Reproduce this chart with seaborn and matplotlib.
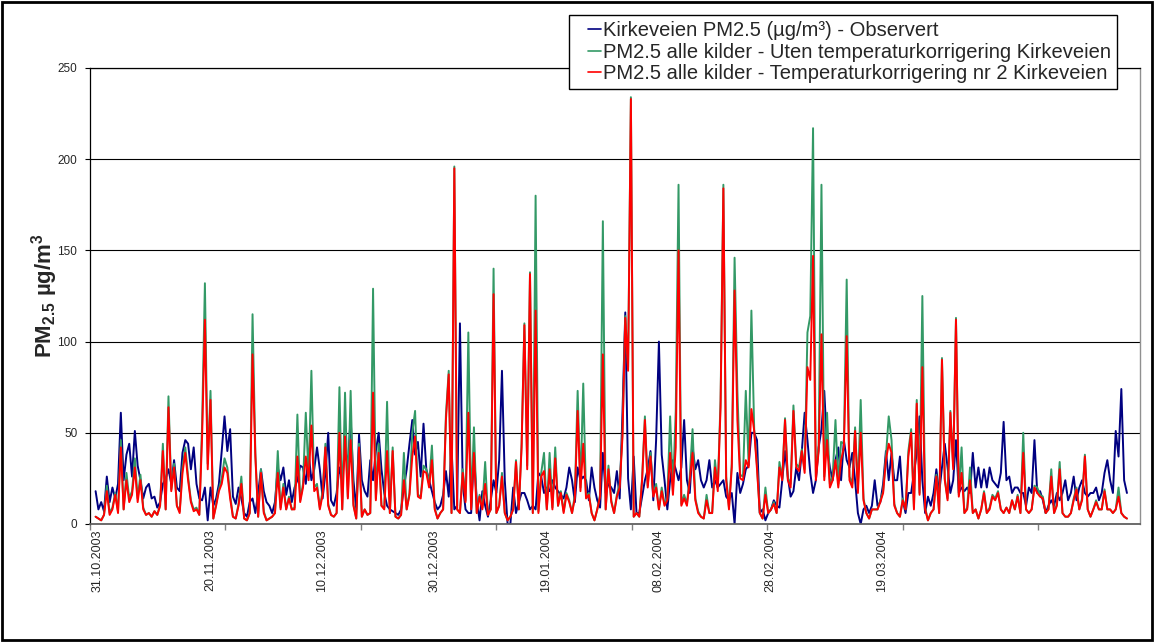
import numpy as np
import pandas as pd
import matplotlib
matplotlib.use("Agg")
import matplotlib.pyplot as plt
import seaborn as sns
from matplotlib.patches import Rectangle
from matplotlib.lines import Line2D
from matplotlib.legend_handler import HandlerLine2D

# ---------------- data (half-day samples) ----------------
series_names = [
    "Kirkeveien PM2.5 (µg/m³) - Observert",
    "PM2.5 alle kilder - Uten temperaturkorrigering Kirkeveien",
    "PM2.5 alle kilder - Temperaturkorrigering nr 2 Kirkeveien",
]
series_colors = ["#000080", "#339966", "#FF0000"]

tick_labels = ["31.10.2003", "20.11.2003", "10.12.2003", "30.12.2003",
               "19.01.2004", "08.02.2004", "28.02.2004", "19.03.2004"]

observed = [
    18, 8, 12, 7, 26, 12, 20, 14, 22, 61,
    24, 38, 44, 26, 51, 32, 24, 14, 20, 22,
    14, 15, 9, 12, 22, 25, 30, 22, 35, 20,
    18, 39, 46, 44, 30, 42, 22, 14, 13, 20,
    2, 20, 10, 14, 22, 40, 59, 40, 52, 15,
    11, 20, 14, 6, 4, 12, 14, 6, 17, 30,
    18, 12, 10, 6, 12, 31, 24, 31, 16, 24,
    12, 20, 24, 32, 31, 22, 39, 24, 30, 42,
    30, 14, 28, 50, 13, 10, 17, 31, 24, 42,
    32, 58, 24, 8, 49, 24, 18, 15, 35, 24,
    40, 50, 30, 17, 10, 8, 7, 6, 5, 8,
    20, 30, 44, 57, 38, 45, 26, 55, 30, 24,
    18, 12, 8, 10, 16, 29, 15, 42, 8, 10,
    110, 22, 8, 6, 6, 39, 13, 2, 18, 10,
    4, 13, 24, 17, 35, 84, 24, 0, 0, 20,
    6, 12, 17, 17, 13, 8, 10, 8, 28, 26,
    17, 20, 18, 24, 20, 18, 16, 14, 20, 31,
    24, 12, 31, 24, 26, 24, 13, 31, 20, 13,
    9, 39, 17, 22, 20, 17, 29, 14, 61, 116,
    25, 8, 37, 6, 6, 15, 24, 30, 40, 13,
    46, 100, 38, 24, 8, 24, 35, 30, 24, 31,
    57, 24, 17, 42, 30, 35, 24, 20, 24, 35,
    20, 24, 20, 22, 24, 15, 13, 17, 0, 28,
    17, 22, 30, 32, 50, 50, 46, 6, 8, 2,
    6, 8, 13, 10, 9, 24, 40, 26, 15, 18,
    31, 24, 40, 61, 46, 28, 17, 24, 42, 52,
    73, 42, 31, 24, 35, 42, 24, 46, 35, 31,
    39, 24, 6, 0, 8, 10, 6, 10, 24, 10,
    12, 22, 40, 24, 39, 24, 24, 37, 13, 6,
    17, 17, 28, 39, 59, 24, 6, 15, 10, 17,
    30, 17, 31, 44, 31, 17, 24, 46, 17, 20,
    18, 20, 17, 39, 20, 31, 20, 30, 20, 31,
    24, 22, 20, 28, 56, 24, 26, 17, 20, 20,
    17, 17, 10, 20, 17, 46, 17, 18, 13, 6,
    10, 13, 10, 17, 13, 17, 24, 13, 17, 26,
    13, 20, 24, 17, 15, 17, 17, 20, 13, 17,
    28, 35, 24, 17, 51, 37, 74, 24, 17,
]

uten_korr = [
    4, 3, 2, 5, 21, 6, 9, 17, 7, 46,
    8, 28, 14, 18, 36, 14, 27, 9, 5, 6,
    4, 7, 5, 10, 44, 8, 70, 19, 33, 10,
    7, 31, 42, 26, 13, 8, 9, 5, 55, 132,
    33, 73, 3, 11, 19, 25, 36, 31, 16, 4,
    3, 11, 26, 3, 2, 6, 115, 39, 4, 30,
    7, 2, 3, 4, 6, 40, 9, 22, 8, 15,
    8, 9, 60, 13, 22, 61, 26, 84, 20, 22,
    9, 18, 44, 11, 5, 4, 6, 75, 8, 72,
    15, 73, 11, 3, 44, 4, 8, 5, 6, 129,
    14, 44, 10, 9, 67, 6, 42, 4, 3, 5,
    39, 8, 17, 50, 62, 16, 15, 32, 30, 22,
    43, 9, 3, 6, 8, 60, 84, 6, 196, 8,
    6, 30, 13, 105, 9, 53, 6, 16, 9, 34,
    5, 8, 140, 6, 10, 28, 6, 2, 4, 8,
    35, 8, 44, 110, 32, 138, 6, 180, 7, 28,
    39, 8, 39, 9, 42, 10, 18, 7, 17, 13,
    6, 16, 73, 20, 77, 15, 17, 6, 2, 8,
    16, 166, 8, 32, 13, 6, 16, 22, 50, 114,
    86, 234, 4, 6, 4, 25, 59, 21, 39, 16,
    22, 8, 20, 11, 14, 59, 18, 62, 186, 11,
    16, 11, 26, 52, 14, 7, 4, 3, 16, 6,
    6, 35, 20, 68, 186, 26, 9, 33, 146, 73,
    27, 26, 73, 33, 117, 52, 32, 6, 3, 20,
    6, 8, 12, 6, 34, 25, 58, 25, 22, 65,
    33, 31, 41, 30, 105, 114, 217, 26, 43, 186,
    26, 61, 22, 26, 57, 22, 45, 44, 134, 26,
    22, 53, 19, 68, 14, 6, 3, 8, 8, 8,
    13, 18, 37, 59, 46, 11, 6, 4, 14, 8,
    40, 52, 9, 68, 17, 125, 9, 2, 6, 8,
    27, 6, 91, 25, 14, 62, 32, 113, 16, 42,
    6, 9, 31, 6, 8, 3, 8, 18, 6, 9,
    16, 14, 18, 8, 6, 9, 6, 13, 8, 16,
    6, 50, 8, 6, 8, 21, 20, 16, 15, 6,
    8, 30, 6, 11, 34, 6, 4, 4, 6, 14,
    20, 8, 14, 38, 8, 4, 8, 13, 8, 8,
    19, 8, 8, 6, 8, 20, 6, 4, 3,
]

temp_korr = [
    4, 3, 2, 5, 18, 5, 8, 16, 6, 42,
    8, 24, 12, 16, 31, 12, 24, 8, 5, 6,
    4, 7, 5, 10, 40, 8, 64, 18, 31, 10,
    6, 28, 39, 24, 12, 7, 8, 5, 48, 112,
    30, 68, 3, 10, 18, 22, 31, 28, 14, 4,
    3, 10, 22, 3, 2, 6, 93, 37, 4, 28,
    6, 2, 3, 4, 6, 28, 8, 20, 8, 14,
    8, 8, 37, 12, 20, 37, 24, 54, 18, 20,
    8, 16, 42, 10, 5, 4, 6, 50, 8, 48,
    14, 46, 10, 3, 42, 4, 8, 5, 6, 72,
    13, 39, 10, 8, 40, 6, 40, 4, 3, 5,
    24, 8, 16, 37, 48, 15, 14, 29, 28, 20,
    35, 8, 3, 6, 8, 57, 82, 6, 195, 8,
    6, 28, 12, 61, 8, 39, 6, 15, 8, 22,
    5, 8, 126, 6, 10, 26, 6, 2, 4, 8,
    34, 8, 42, 109, 30, 137, 6, 117, 6, 26,
    29, 8, 30, 8, 36, 10, 17, 6, 16, 12,
    6, 14, 62, 18, 44, 14, 16, 6, 2, 8,
    15, 93, 8, 30, 12, 6, 15, 20, 48, 113,
    84, 233, 4, 6, 4, 24, 57, 20, 37, 15,
    20, 8, 18, 10, 13, 39, 16, 42, 150, 10,
    14, 10, 24, 39, 13, 6, 4, 3, 13, 6,
    6, 31, 18, 64, 184, 24, 8, 31, 128, 57,
    25, 24, 35, 31, 63, 51, 30, 6, 3, 16,
    6, 8, 11, 6, 31, 24, 57, 24, 20, 62,
    31, 29, 40, 28, 86, 79, 147, 24, 40, 104,
    24, 46, 20, 24, 35, 20, 35, 42, 103, 24,
    20, 51, 17, 50, 13, 6, 3, 8, 8, 8,
    12, 17, 35, 44, 39, 10, 6, 4, 13, 8,
    37, 50, 8, 66, 16, 86, 8, 2, 6, 8,
    26, 6, 90, 24, 13, 61, 30, 112, 15, 28,
    6, 8, 24, 6, 8, 3, 8, 17, 6, 8,
    15, 13, 17, 8, 6, 9, 6, 13, 8, 15,
    6, 39, 8, 6, 8, 20, 17, 15, 14, 6,
    8, 26, 6, 10, 30, 6, 4, 4, 6, 13,
    19, 8, 13, 37, 8, 4, 8, 12, 8, 8,
    18, 8, 8, 6, 8, 15, 6, 4, 3,
]

# ---------------- layout / time axis ----------------
FIRST_SAMPLE_DAY = 1.0     # days after 31.10.2003
SAMPLE_STEP_DAY = 0.5
LABEL_OFFSET_DAYS = 1.4
LABEL_EVERY_DAYS = 20
TICKMARK_EVERY_DAYS = 580 / 24
X_END_DAY = 187.33

n = len(observed)
day = FIRST_SAMPLE_DAY + SAMPLE_STEP_DAY * np.arange(n)

frames = []
for name, vals in zip(series_names, [observed, uten_korr, temp_korr]):
    frames.append(pd.DataFrame({"day": day, "value": vals, "series": name}))
df = pd.concat(frames, ignore_index=True)

sns.set_theme(style="white")
plt.rcParams["font.family"] = ["Liberation Sans", "DejaVu Sans"]
plt.rcParams["mathtext.fontset"] = "custom"
plt.rcParams["mathtext.rm"] = "Liberation Sans"
plt.rcParams["mathtext.bf"] = "Liberation Sans:bold"
plt.rcParams["mathtext.it"] = "Liberation Sans:italic"

W, H = 1155, 642
fig = plt.figure(figsize=(W / 100, H / 100), dpi=100)
ax = fig.add_axes([90 / W, 1 - 524 / H, 1050 / W, 456 / H])

sns.lineplot(data=df, x="day", y="value", hue="series", hue_order=series_names,
             palette=dict(zip(series_names, series_colors)), estimator=None,
             sort=False, linewidth=1.4, ax=ax)

ax.set_xlim(0, X_END_DAY)
ax.set_ylim(0, 250)
ax.set_yticks(np.arange(0, 251, 50))
ax.yaxis.grid(True, color="black", linewidth=0.8)
ax.xaxis.grid(False)
ax.set_axisbelow(True)

label_pos = LABEL_OFFSET_DAYS + np.arange(len(tick_labels)) * LABEL_EVERY_DAYS
ax.set_xticks(label_pos)
ax.set_xticklabels(tick_labels, rotation=90, fontsize=9)
ax.set_xticks(np.arange(0, X_END_DAY, TICKMARK_EVERY_DAYS), minor=True)
ax.tick_params(axis="x", which="major", bottom=True, length=0, pad=4)
ax.tick_params(axis="x", which="minor", bottom=True, length=4, width=1, color="#808080")
ax.tick_params(axis="y", left=True, length=3.6, width=0.8, color="black",
               labelsize=8.5, pad=5.5)

ax.set_xlabel("")
ax.set_ylabel("PM$_{\\mathbf{2.5}}$ µg/m$^{\\mathbf{3}}$", fontsize=16, fontweight="bold")
ax.yaxis.set_label_coords(-0.029, 0.5)

for side in ["left", "top"]:
    ax.spines[side].set_color("black")
    ax.spines[side].set_linewidth(0.9)
ax.spines["bottom"].set_color("#606060")
ax.spines["bottom"].set_linewidth(1.3)
ax.spines["right"].set_color("#909090")
ax.spines["right"].set_linewidth(1.0)


class RightHalfLine(HandlerLine2D):
    """Legend line drawn only in the right half of the handle slot (Excel style)."""
    def create_artists(self, legend, orig_handle, xdescent, ydescent, width,
                       height, fontsize, trans):
        arts = super().create_artists(legend, orig_handle, xdescent, ydescent,
                                      width, height, fontsize, trans)
        for a in arts:
            if isinstance(a, Line2D):
                xd = np.asarray(a.get_xdata(), dtype=float)
                if xd.size >= 2:
                    x0, x1 = xd.min(), xd.max()
                    a.set_xdata(np.linspace(x0 + 0.5 * (x1 - x0), x1, xd.size))
        return arts


handles, labels = ax.get_legend_handles_labels()
leg = ax.legend(handles, labels, loc="upper right", bbox_to_anchor=(0.978, 1.116),
                frameon=True, fancybox=False, framealpha=1, edgecolor="black",
                fontsize=14.5, handlelength=1.3, handletextpad=0.08,
                labelspacing=0.12, borderpad=0.3, borderaxespad=0,
                handler_map={Line2D: RightHalfLine()})
leg.get_frame().set_linewidth(1.0)
for line in leg.get_lines():
    line.set_linewidth(1.2)

fig.patches.append(Rectangle((0.002, 0.003), 0.995, 0.994, transform=fig.transFigure,
                             fill=False, edgecolor="black", linewidth=2))

fig.savefig("out.png", dpi=100, facecolor="white")
